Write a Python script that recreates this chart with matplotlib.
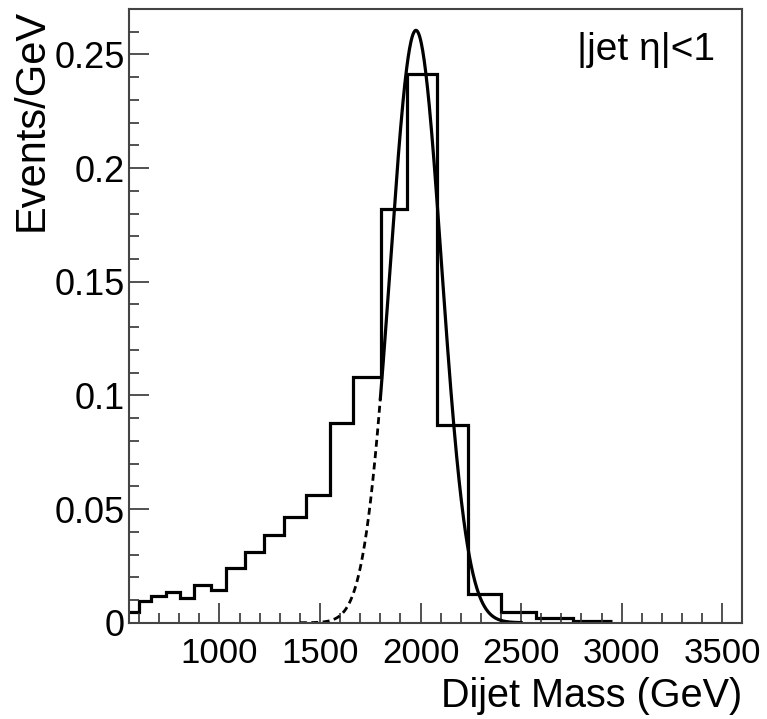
import numpy as np
import matplotlib
matplotlib.use("Agg")
import matplotlib.pyplot as plt
from matplotlib.ticker import MultipleLocator

plt.rcParams['font.family'] = ['Liberation Sans', 'DejaVu Sans']

# dijet mass histogram (variable bins, GeV) and its content in Events/GeV
bin_edges = [550, 600, 661, 734, 805, 871, 959, 1033, 1128, 1219, 1323, 1431,
             1550, 1666, 1801, 1933, 2080, 2234, 2398, 2573, 2756, 2954]
bin_values = [0.0048, 0.0097, 0.0117, 0.0134, 0.0110, 0.0166, 0.0144, 0.0239,
              0.0310, 0.0386, 0.0466, 0.0562, 0.0880, 0.1082, 0.1822, 0.2413,
              0.0869, 0.0125, 0.0046, 0.0022, 0.0009]

# gaussian fit: amplitude, mean, sigma; fit range (solid) and extrapolation (dashed)
fit_amp = 0.2606
fit_mean = 1977
fit_sigma = 127
fit_range = (1800, 2500)
extrap_range = (1400, 1800)

x_ticks = [1000, 1500, 2000, 2500, 3000, 3500]
y_ticks = [0, 0.05, 0.1, 0.15, 0.2, 0.25]
y_ticklabels = ['0', '0.05', '0.1', '0.15', '0.2', '0.25']


def gauss(x):
    return fit_amp * np.exp(-0.5 * ((x - fit_mean) / fit_sigma) ** 2)


fig = plt.figure(figsize=(7.67, 7.19), dpi=100)
ax = fig.add_axes([0.1682, 0.1339, 0.7996, 0.8536])

ax.stairs(bin_values, bin_edges, baseline=None, color='black', lw=2.3)

xs = np.linspace(*fit_range, 300)
ax.plot(xs, gauss(xs), color='black', lw=2.3)
xd = np.linspace(*extrap_range, 200)
ax.plot(xd, gauss(xd), color='black', lw=2.0, ls=(0, (2.5, 1.6)))

ax.set_xlim(550, 3600)
ax.set_ylim(0, 0.27)

ax.xaxis.set_minor_locator(MultipleLocator(100))
ax.yaxis.set_minor_locator(MultipleLocator(0.01))
ax.set_xticks(x_ticks)
ax.set_yticks(y_ticks)
ax.set_yticklabels(y_ticklabels)

ax.tick_params(which='both', direction='in', top=False, right=False,
               color='#333333', width=1.2)
ax.tick_params(which='major', length=14.5)
ax.tick_params(which='minor', length=7.2)
ax.tick_params(axis='x', which='major', labelsize=25, pad=10)
ax.tick_params(axis='y', which='major', labelsize=26, pad=3)
for sp in ax.spines.values():
    sp.set_color('#444444')
    sp.set_linewidth(1.5)

ax.set_xlabel('Dijet Mass (GeV)', fontsize=28.5, loc='right', labelpad=5)
ax.set_ylabel('Events/GeV', fontsize=30, loc='top', labelpad=2)

ax.text(0.955, 0.933, '|jet η|<1', transform=ax.transAxes,
        fontsize=28, ha='right', va='center')

fig.savefig('out.png', dpi=100)
